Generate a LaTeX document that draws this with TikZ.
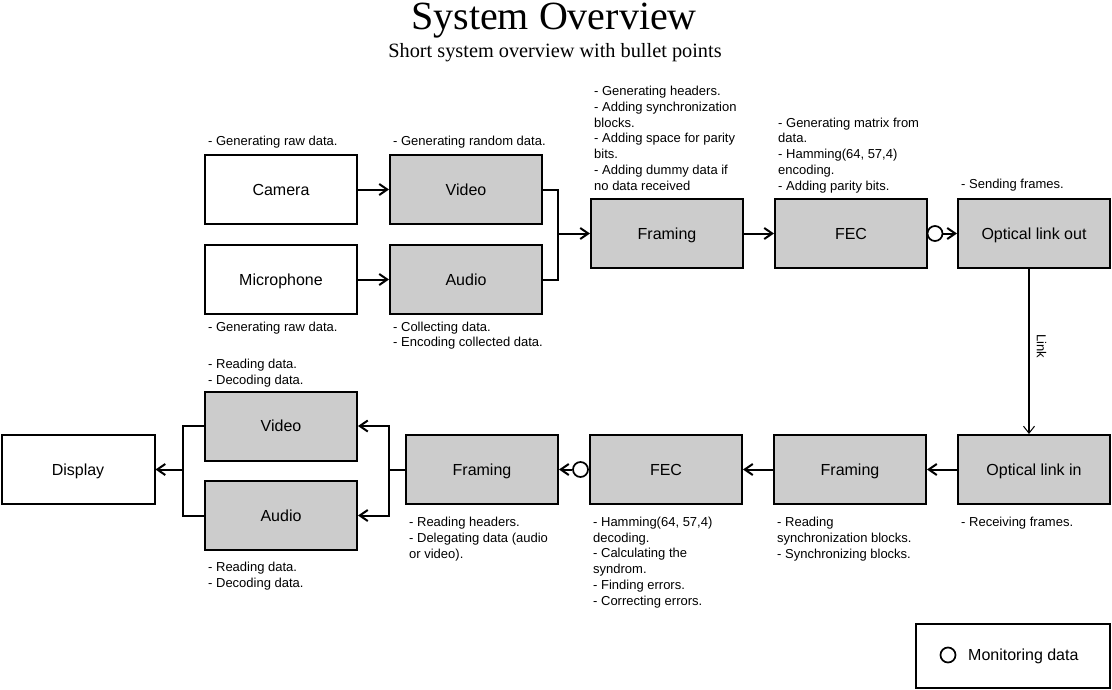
\documentclass[tikz,border=0pt]{standalone}
\usepackage{fontspec}
\setmainfont{Liberation Sans}
\newfontfamily\serifT{Liberation Serif}
\usetikzlibrary{arrows.meta}
\definecolor{boxgray}{HTML}{CCCCCC}
\begin{document}
\begin{tikzpicture}[x=1pt,y=-1pt,
  blk/.style={draw, line width=2pt, minimum width=152pt, minimum height=69pt, inner sep=0pt, text height=11.5pt, text depth=0pt, font=\fontsize{16}{19}\selectfont},
  proc/.style={blk, fill=boxgray},
  note/.style={anchor=base west, align=left, inner sep=0pt, font=\fontsize{13}{15.7}\selectfont},
  wire/.style={line width=2pt},
  arr/.style={line width=2pt, -{Straight Barb[length=8pt,width=11pt]}},
  mon/.style={circle, draw, line width=1.7pt, minimum size=15pt, inner sep=0pt, fill=white},
  linkarr/.style={line width=1.3pt, -{Straight Barb[length=7pt,width=11pt,line width=1pt]}}
]
\useasboundingbox (0,0) rectangle (1112,689);

% title
\node[anchor=base, inner sep=0pt, font=\serifT\fontsize{40}{44}\selectfont] (title) at (554,29.5) {System Overview};
\node[anchor=base, inner sep=0pt, font=\serifT\fontsize{20.3}{24}\selectfont] (subtitle) at (555,57.5) {Short system overview with bullet points};

% top row
\node[blk]  (cam)  at (281,189.5) {Camera};
\node[proc] (v1)   at (466,189.5) {Video};
\node[blk]  (mic)  at (281,279.5) {Microphone};
\node[proc] (a1)   at (466,279.5) {Audio};
\node[proc] (fr1)  at (667,233.5) {Framing};
\node[proc] (fec1) at (851,233.5) {FEC};
\node[proc] (olo)  at (1034,233.5) {Optical link out};

% bottom row
\node[proc] (oli)  at (1034,469.5) {Optical link in};
\node[proc] (fr2)  at (850,469.5) {Framing};
\node[proc] (fec2) at (666,469.5) {FEC};
\node[proc] (fr3)  at (482,469.5) {Framing};
\node[proc] (v2)   at (281,426) {Video};
\node[proc] (a2)   at (281,515.5) {Audio};
\node[blk, minimum width=153pt] (disp) at (78,469.5) {Display};

% legend
\node[blk, minimum width=194pt, minimum height=64pt] (legend) at (1013,656) {};
\node[mon] (legc) at (948,655) {};
\node[note] (legt) at (968,660.5) {\fontsize{16}{19}\selectfont Monitoring data};

% notes (anchor = baseline of the last line)
\node[note] (ncam) at (208,145) {- Generating raw data.};
\node[note] (nv1)  at (393,145) {- Generating random data.};
\node[note] (nmic) at (208,331) {- Generating raw data.};
\node[note] (na1)  at (393,346.7) {- Collecting data.\\- Encoding collected data.};
\node[note] (nfr1) at (594,190) {- Generating headers.\\- Adding synchronization\\blocks.\\- Adding space for parity\\bits.\\- Adding dummy data if\\no data received};
\node[note] (nfec1) at (778,190) {- Generating matrix from\\data.\\- Hamming(64, 57,4)\\encoding.\\- Adding parity bits.};
\node[note] (nolo) at (961,188.5) {- Sending frames.};
\node[note] (noli) at (961,526.5) {- Receiving frames.};
\node[note] (nfr2) at (777,558) {- Reading\\synchronization blocks.\\- Synchronizing blocks.};
\node[note] (nfec2) at (593,605) {- Hamming(64, 57,4)\\decoding.\\- Calculating the\\syndrom.\\- Finding errors.\\- Correcting errors.};
\node[note] (nfr3) at (409,558) {- Reading headers.\\- Delegating data (audio\\or video).};
\node[note] (nv2)  at (208,384) {- Reading data.\\- Decoding data.};
\node[note] (na2)  at (208,587) {- Reading data.\\- Decoding data.};

% monitoring points
\node[mon] (m1) at (935,233.5) {};
\node[mon] (m2) at (580.5,469.5) {};

% junctions
\coordinate (j1) at (558,233.5);
\coordinate (j2) at (389,469.5);
\coordinate (j3) at (183,469.5);

% top connectors
\draw[arr] (cam) -- (v1);
\draw[arr] (mic) -- (a1);
\draw[wire] (v1.east) -| (j1);
\draw[wire] (a1.east) -| (j1);
\draw[arr] (j1) -- (fr1.west);
\draw[arr] (fr1) -- (fec1);
\draw[wire] (fec1.east) -- (m1.west);
\draw[arr] (m1.east) -- (olo.west);

% link
\draw[linkarr] ([xshift=-5pt]olo.south) -- ([xshift=-5pt]oli.north);
\node[rotate=-90, inner sep=0pt, font=\fontsize{13}{15.7}\selectfont] (lnk) at (1041.5,346.5) {Link};

% bottom connectors
\draw[arr] (oli) -- (fr2);
\draw[arr] (fr2) -- (fec2);
\draw[wire] (fec2.west) -- (m2.east);
\draw[arr] (m2.west) -- (fr3.east);
\draw[wire] (fr3.west) -- (j2);
\draw[arr] (j2) |- (v2.east);
\draw[arr] (j2) |- (a2.east);
\draw[wire] (v2.west) -| (j3);
\draw[wire] (a2.west) -| (j3);
\draw[arr] (j3) -- (disp.east);
\end{tikzpicture}
\end{document}
